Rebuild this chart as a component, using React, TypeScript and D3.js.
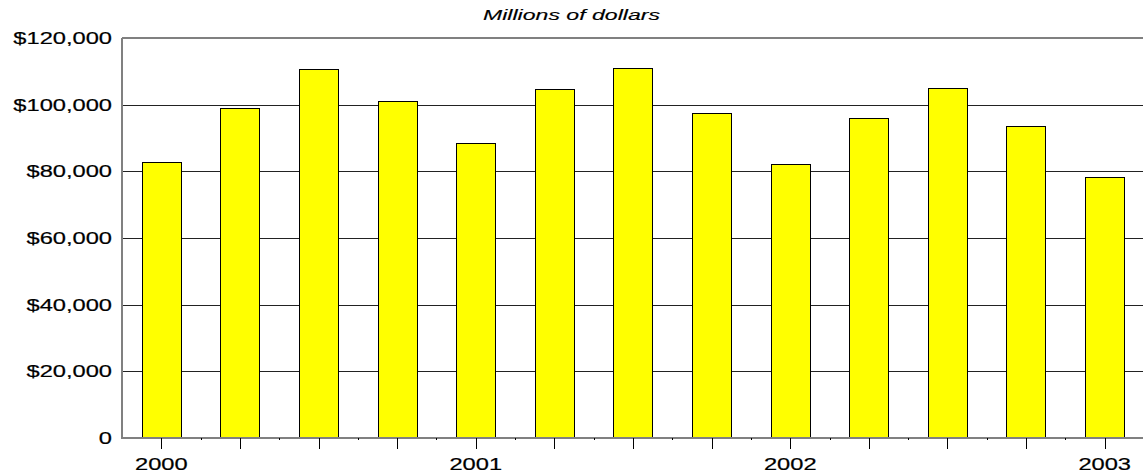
import React from "react";
import * as d3 from "d3";

const quarters = [
  "2000 Q1", "2000 Q2", "2000 Q3", "2000 Q4",
  "2001 Q1", "2001 Q2", "2001 Q3", "2001 Q4",
  "2002 Q1", "2002 Q2", "2002 Q3", "2002 Q4",
  "2003 Q1",
];
const values = [82800, 99000, 110800, 101200, 88400, 104800, 111100, 97600, 82200, 96100, 105100, 93700, 78200];
const yearLabels = ["2000", "", "", "", "2001", "", "", "", "2002", "", "", "", "2003"];
const yTicks = [0, 20000, 40000, 60000, 80000, 100000, 120000];
const title = "Millions of dollars";

const W = 1143;
const H = 476;
const left = 122;
const right = 1144;
const top = 38;
const bottom = 438;
const SX = 1.48;

export default function App() {
  const x = d3.scaleBand<string>().domain(quarters).range([left, right]).paddingInner(0.5).paddingOuter(0.25);
  const y = d3.scaleLinear().domain([0, 120000]).range([bottom, top]);
  const fmt = (v: number) => (v === 0 ? "0" : "$" + d3.format(",")(v));
  const font = "'Liberation Sans', Arial, sans-serif";
  return (
    <svg width={W} height={H} style={{ position: "absolute", left: 0, top: 0, background: "#fff" }}>
      <text
        transform={`translate(${W / 2},20) scale(1.54,1)`}
        textAnchor="middle"
        fontFamily={font}
        fontStyle="italic"
        fontSize={15}
        fill="#000"
        stroke="#000"
        strokeWidth={0.15}
      >
        {title}
      </text>
      {yTicks.filter((t) => t > 0 && t < 120000).map((t) => (
        <line key={"g" + t} x1={left} x2={right} y1={Math.round(y(t)) + 0.5} y2={Math.round(y(t)) + 0.5} stroke="#222" strokeWidth={1} />
      ))}
      <line x1={left} x2={right} y1={y(120000)} y2={y(120000)} stroke="#808080" strokeWidth={2} />
      {values.map((v, i) => (
        <rect
          key={quarters[i]}
          x={Math.round(x(quarters[i])!) + 0.5}
          y={Math.round(y(v)) + 0.5}
          width={Math.round(x.bandwidth())}
          height={Math.round(y(0)) - Math.round(y(v))}
          fill="#ffff00"
          stroke="#000"
          strokeWidth={1}
        />
      ))}
      <line x1={left} x2={left} y1={top} y2={bottom + 1} stroke="#808080" strokeWidth={2} />
      <line x1={left} x2={right} y1={bottom} y2={bottom} stroke="#808080" strokeWidth={2} />
      {quarters.map((q) => {
        const cx = Math.round(x(q)! + x.bandwidth() / 2) + 0.5;
        return <line key={"t" + q} x1={cx} x2={cx} y1={bottom} y2={bottom + 11} stroke="#000" strokeWidth={1} />;
      })}
      {quarters.slice(0, -1).map((q) => {
        const mx = Math.round(x(q)! + x.bandwidth() / 2 + x.step() / 2) + 0.5;
        return <line key={"m" + q} x1={mx} x2={mx} y1={bottom} y2={bottom + 2} stroke="#000" strokeWidth={1} />;
      })}
      {yTicks.map((t) => (
        <text
          key={"yl" + t}
          transform={`translate(112,${y(t) + 6}) scale(${SX},1)`}
          textAnchor="end"
          fontFamily={font}
          fontSize={16}
          fill="#000"
          stroke="#000"
          strokeWidth={0.2}
        >
          {fmt(t)}
        </text>
      ))}
      {quarters.map((q, i) =>
        yearLabels[i] ? (
          <text
            key={"xl" + q}
            transform={`translate(${x(q)! + x.bandwidth() / 2},470) scale(${SX},1)`}
            textAnchor="middle"
            fontFamily={font}
            fontSize={16}
            fill="#000"
            stroke="#000"
            strokeWidth={0.2}
          >
            {yearLabels[i]}
          </text>
        ) : null
      )}
    </svg>
  );
}
